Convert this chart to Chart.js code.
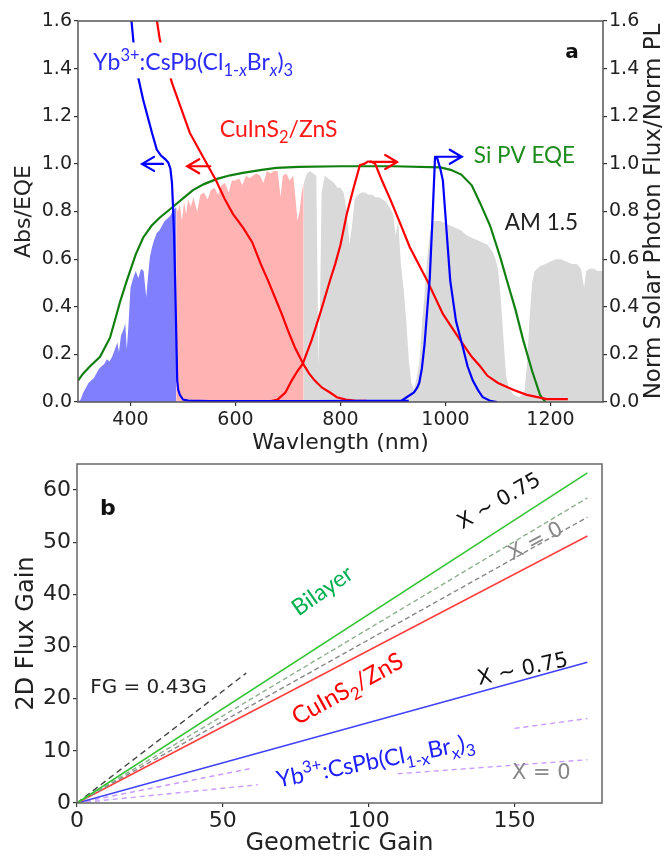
<!DOCTYPE html>
<html lang="en">
<head>
<meta charset="UTF-8">
<title>Spectra and 2D flux gain</title>
<script src="https://cdn.jsdelivr.net/npm/chart.js"></script>
<style>
  body { margin: 0; background: #fff; }
  #wrap { position: relative; width: 665px; height: 856px; overflow: hidden; }
  canvas { position: absolute; left: 0; }
  #chartA { top: 0; }
  #chartB { top: 460px; }
</style>
</head>
<body>
<div id="wrap">
  <canvas id="chartA" width="665" height="460"></canvas>
  <canvas id="chartB" width="665" height="396"></canvas>
</div>
<script>
// ---------- panel a data ----------
// AM1.5 normalised photon flux
const amWl = [
  300, 305, 310, 315, 320, 325, 330, 335, 340, 345,
  350, 355, 360, 365, 370, 375, 378, 382, 386, 390,
  393, 396, 400, 405, 410, 415, 420, 425, 430, 433,
  437, 441, 445, 450, 455, 460, 465, 470, 475, 480,
  484, 487, 490, 494, 498, 502, 506, 510, 515, 520,
  527, 533, 540, 547, 553, 560, 567, 573, 580, 587,
  593, 600, 607, 613, 620, 627, 633, 640, 647, 653,
  660, 667, 673, 680, 686, 690, 697, 703, 710, 715,
  718, 722, 726, 730, 736, 742, 748, 754, 758, 761,
  764, 770, 776, 782, 788, 794, 800, 806, 812, 817,
  822, 827, 833, 840, 847, 853, 860, 867, 873, 880,
  887, 893, 900, 905, 910, 915, 920, 925, 930, 935,
  940, 945, 950, 955, 960, 965, 970, 975, 980, 990,
  1000, 1010, 1020, 1030, 1040, 1050, 1060, 1070, 1080, 1090,
  1095, 1100, 1105, 1110, 1115, 1120, 1130, 1140, 1150, 1155,
  1160, 1165, 1170, 1180, 1190, 1200, 1210, 1220, 1230, 1240,
  1250, 1258, 1264, 1268, 1275, 1282, 1290, 1300
];
const amFlux = [
  0.00, 0.01, 0.04, 0.06, 0.08, 0.09, 0.10, 0.12, 0.14, 0.15,
  0.16, 0.18, 0.17, 0.19, 0.22, 0.25, 0.21, 0.28, 0.30, 0.33,
  0.22, 0.32, 0.48, 0.52, 0.55, 0.52, 0.56, 0.55, 0.44, 0.52,
  0.61, 0.65, 0.68, 0.71, 0.72, 0.74, 0.76, 0.77, 0.78, 0.80,
  0.81, 0.82, 0.80, 0.83, 0.76, 0.84, 0.79, 0.85, 0.82, 0.86,
  0.80, 0.87, 0.88, 0.85, 0.89, 0.90, 0.87, 0.91, 0.92, 0.88,
  0.93, 0.93, 0.94, 0.91, 0.95, 0.94, 0.95, 0.96, 0.95, 0.92,
  0.97, 0.96, 0.97, 0.97, 0.86, 0.95, 0.96, 0.93, 0.95, 0.84,
  0.76, 0.80, 0.88, 0.92, 0.96, 0.97, 0.96, 0.95, 0.15, 0.40,
  0.88, 0.95, 0.94, 0.93, 0.92, 0.90, 0.90, 0.88, 0.80, 0.66,
  0.74, 0.85, 0.87, 0.88, 0.88, 0.87, 0.87, 0.86, 0.86, 0.85,
  0.84, 0.82, 0.79, 0.70, 0.76, 0.58, 0.48, 0.35, 0.18, 0.08,
  0.05, 0.10, 0.16, 0.32, 0.45, 0.60, 0.70, 0.75, 0.76, 0.76,
  0.75, 0.74, 0.73, 0.72, 0.70, 0.69, 0.68, 0.67, 0.66, 0.63,
  0.60, 0.56, 0.44, 0.28, 0.12, 0.06, 0.03, 0.02, 0.04, 0.15,
  0.35, 0.50, 0.55, 0.57, 0.58, 0.59, 0.60, 0.60, 0.59, 0.58,
  0.58, 0.56, 0.48, 0.55, 0.56, 0.56, 0.55, 0.55
];
const perovCut = 487;   // perovskite absorbs below this
const cisCut = 730;     // CuInS2 absorbs below this

// Si PV EQE
const eqeWl = [300, 310, 323, 342, 361, 370, 380, 393, 410, 424, 440, 456, 481, 500, 519, 540, 565, 590, 614, 650, 678, 720, 800, 900, 990, 1010, 1030, 1050, 1066, 1085, 1104, 1117, 1133, 1148, 1165, 1180, 1190];
const eqe   = [0.09, 0.12, 0.15, 0.19, 0.27, 0.34, 0.42, 0.51, 0.62, 0.69, 0.74, 0.775, 0.82, 0.855, 0.89, 0.915, 0.937, 0.952, 0.962, 0.975, 0.983, 0.987, 0.99, 0.99, 0.985, 0.975, 0.955, 0.91, 0.835, 0.74, 0.61, 0.51, 0.39, 0.26, 0.13, 0.03, 0.0];

// Yb3+:CsPb(Cl1-xBrx)3 absorption and PL
const perovAbsWl = [401, 410, 424, 441, 450, 458, 466, 472, 476, 479, 481, 483, 485, 487, 489, 491, 494, 497, 500, 510, 550, 650, 750, 850, 930];
const perovAbs   = [1.62, 1.41, 1.27, 1.13, 1.06, 1.035, 1.02, 1.005, 0.98, 0.92, 0.82, 0.70, 0.51, 0.30, 0.09, 0.05, 0.03, 0.02, 0.01, 0.006, 0.004, 0.004, 0.004, 0.005, 0.005];
const perovPlWl = [900, 913, 926, 940, 946, 950, 955, 960, 965, 970, 975, 980, 984, 990, 995, 1002, 1009, 1020, 1033, 1042, 1052, 1062, 1071, 1085, 1098];
const perovPl   = [0.0, 0.0, 0.02, 0.04, 0.06, 0.08, 0.14, 0.24, 0.38, 0.52, 0.76, 1.025, 1.025, 0.98, 0.93, 0.72, 0.51, 0.34, 0.23, 0.15, 0.09, 0.05, 0.02, 0.005, 0.0];

// CuInS2/ZnS absorption and PL
const cisAbsWl = [449, 456, 479, 513, 548, 563, 580, 595, 615, 632, 648, 662, 675, 688, 700, 713, 729, 740, 751, 765, 780, 793, 810, 830, 850];
const cisAbs   = [1.62, 1.52, 1.34, 1.13, 0.99, 0.93, 0.85, 0.79, 0.73, 0.67, 0.58, 0.51, 0.44, 0.37, 0.30, 0.23, 0.16, 0.12, 0.09, 0.06, 0.04, 0.02, 0.01, 0.005, 0.005];
const cisPlWl = [660, 680, 695, 707, 718, 728, 745, 761, 780, 790, 800, 812, 825, 837, 845, 852, 858, 866, 879, 895, 910, 932, 965, 995, 1010, 1028, 1050, 1066, 1080, 1100, 1130, 1155, 1193, 1233];
const cisPl   = [0.0, 0.01, 0.04, 0.09, 0.13, 0.16, 0.26, 0.37, 0.51, 0.58, 0.66, 0.79, 0.90, 0.995, 1.0, 1.01, 1.01, 1.0, 0.93, 0.85, 0.77, 0.65, 0.51, 0.37, 0.32, 0.26, 0.19, 0.15, 0.11, 0.08, 0.05, 0.03, 0.012, 0.012];

const wlTicks = [400, 600, 800, 1000, 1200];
const absTicks = [0.0, 0.2, 0.4, 0.6, 0.8, 1.0, 1.2, 1.4, 1.6];

// ---------- panel b data ----------
const gainEnds = [0, 175];
const bilayerX075 = [0, 63.3];
const bilayerX0 = [0, 58.5];
const cisX0 = [0, 54.8];
const cisX075 = [0, 51.2];
const perovX075 = [0, 27.0];
const refGain = [0, 58];
const refFlux = [0, 24.9];      // FG = 0.43G
const perovX0aGain = [0, 60.5, 100, 150, 175];
const perovX0a     = [0, 6.7, null, 14.3, 16.2];
const perovX0bGain = [0, 62, 90, 110, 175];
const perovX0b     = [0, 3.5, null, 5.6, 8.3];

const gainTicks = [0, 50, 100, 150];
const fluxTicks = [0, 10, 20, 30, 40, 50, 60];

// ---------- helpers ----------
const LABEL_FONT = "Lato, 'Open Sans', sans-serif";
const AXIS_FONT = "'DejaVu Sans', sans-serif";
Chart.defaults.font.family = AXIS_FONT;
Chart.defaults.color = '#222';

const toPts = (xs, ys) => xs.map((x, i) => ({ x, y: ys[i] }));

function lineDs(xs, ys, color, width, dash) {
  return { data: toPts(xs, ys), borderColor: color, borderWidth: width, borderDash: dash || [],
           pointRadius: 0, fill: false, tension: 0, spanGaps: false, order: 1 };
}
function fillDs(pts, color) {
  return { data: pts, borderWidth: 0, borderColor: color, backgroundColor: color,
           pointRadius: 0, fill: 'origin', tension: 0, order: 5 };
}
function fixedTicks(values) {
  return scale => { scale.ticks = values.map(v => ({ value: v })); };
}
function fitTo(prop, size) {
  return scale => {
    scale[prop] = size;
    scale.paddingTop = scale.paddingBottom = scale.paddingLeft = scale.paddingRight = 0;
  };
}

function drawRich(ctx, item, px, py) {
  const size = item.size;
  const fam = item.family || LABEL_FONT;
  const runs = item.parts.map(([t, pos, it]) => {
    const s = pos ? size * 0.72 : size;
    const font = (it ? 'italic ' : '') + (item.bold ? 'bold ' : '') + s + 'px ' + fam;
    ctx.font = font;
    const dy = pos === 'sup' ? -size * 0.4 : pos === 'sub' ? size * 0.25 : 0;
    return { t, font, w: ctx.measureText(t).width, dy };
  });
  const total = runs.reduce((a, r) => a + r.w, 0);
  ctx.save();
  ctx.translate(px, py);
  if (item.rot) ctx.rotate(item.rot * Math.PI / 180);
  let x = item.align === 'center' ? -total / 2 : 0;
  const base = item.align === 'center' ? size * 0.36 : 0;
  if (item.bg) {
    ctx.fillStyle = '#fff';
    ctx.fillRect(x - 4, base - size * 1.2, total + 8, size * 1.56);
  }
  ctx.fillStyle = item.color;
  ctx.textAlign = 'left';
  ctx.textBaseline = 'alphabetic';
  runs.forEach(r => { ctx.font = r.font; ctx.fillText(r.t, x, base + r.dy); x += r.w; });
  ctx.restore();
}

function drawArrow(ctx, x0, y0, x1, y1, color) {
  const dir = Math.sign(x1 - x0);
  ctx.save();
  ctx.strokeStyle = color;
  ctx.lineWidth = 2.2;
  ctx.lineCap = 'round';
  ctx.beginPath();
  ctx.moveTo(x0, y0); ctx.lineTo(x1, y1);
  ctx.moveTo(x1 - dir * 12, y1 - 7); ctx.lineTo(x1, y1); ctx.lineTo(x1 - dir * 12, y1 + 7);
  ctx.stroke();
  ctx.restore();
}

const framePlugin = color => ({
  id: 'frame',
  afterDraw(chart) {
    const { ctx, chartArea: a } = chart;
    ctx.save();
    ctx.strokeStyle = color;
    ctx.lineWidth = 1.5;
    ctx.strokeRect(a.left, a.top, a.right - a.left, a.bottom - a.top);
    ctx.restore();
  }
});

function annotationPlugin(labels, arrows, extra) {
  return {
    id: 'notes',
    afterDatasetsDraw(chart) {
      const { ctx, scales } = chart;
      (arrows || []).forEach(a => {
        drawArrow(ctx, scales.x.getPixelForValue(a.from[0]), scales.y.getPixelForValue(a.from[1]),
                  scales.x.getPixelForValue(a.to[0]), scales.y.getPixelForValue(a.to[1]), a.color);
      });
      labels.forEach(l => drawRich(ctx, l, scales.x.getPixelForValue(l.at[0]), scales.y.getPixelForValue(l.at[1])));
      if (extra) extra(chart);
    }
  };
}

// ---------- panel a ----------
const amPts = toPts(amWl, amFlux);
const perovSpan = amPts.filter(p => p.x <= perovCut);
const cisSpan = amPts.filter(p => p.x >= perovCut && p.x <= cisCut);
const restSpan = amPts.filter(p => p.x >= cisCut);

const perovFormulaA = [['Yb'], ['3+', 'sup'], [':CsPb(Cl'], ['1-', 'sub'], ['x', 'sub', 1], ['Br'], ['x', 'sub', 1], [')'], ['3', 'sub']];
const cisFormula = [['CuInS'], ['2', 'sub'], ['/ZnS']];

const labelsA = [
  { at: [329, 1.394], parts: perovFormulaA, color: '#2b2bff', size: 23, bg: true },
  { at: [570, 1.113], parts: cisFormula, color: '#ff1a1a', size: 23 },
  { at: [1054, 1.004], parts: [['Si PV EQE']], color: '#1e8c1e', size: 22.5 },
  { at: [1113, 0.722], parts: [['AM 1.5']], color: '#222', size: 22.5 },
  { at: [1228, 1.445], parts: [['a']], color: '#111', size: 20, bold: true, family: AXIS_FONT }
];
const arrowsA = [
  { from: [462, 1.0], to: [422, 1.0], color: '#0000ff' },
  { from: [552, 0.99], to: [508, 0.99], color: '#ff0000' },
  { from: [856, 1.008], to: [908, 1.008], color: '#ff0000' },
  { from: [980, 1.03], to: [1031, 1.03], color: '#0000ff' }
];

function rightTitle(chart) {
  const { ctx, chartArea: a } = chart;
  ctx.save();
  ctx.translate(654, (a.top + a.bottom) / 2);
  ctx.rotate(-Math.PI / 2);
  ctx.font = '23px ' + AXIS_FONT;
  ctx.fillStyle = '#222';
  ctx.textAlign = 'center';
  ctx.textBaseline = 'middle';
  ctx.fillText('Norm Solar Photon Flux/Norm PL', 0, 0);
  ctx.restore();
}

const tickGrid = { drawOnChartArea: false, tickLength: 4, color: '#333', lineWidth: 1.2 };

new Chart(document.getElementById('chartA'), {
  type: 'line',
  data: {
    datasets: [
      lineDs(perovAbsWl, perovAbs, '#0000ff', 2.2),
      lineDs(perovPlWl, perovPl, '#0000ff', 2.2),
      lineDs(cisAbsWl, cisAbs, '#ff0000', 2.2),
      lineDs(cisPlWl, cisPl, '#ff0000', 2.2),
      lineDs(eqeWl, eqe, '#118011', 2.2),
      fillDs(perovSpan, '#8080ff'),
      fillDs(cisSpan, '#ffb3b3'),
      fillDs(restSpan, '#d9d9d9')
    ]
  },
  options: {
    responsive: false,
    animation: false,
    devicePixelRatio: 1,
    layout: { padding: { top: 21, left: 0, right: 0, bottom: 0 } },
    plugins: { legend: { display: false }, tooltip: { enabled: false } },
    scales: {
      x: {
        type: 'linear', min: 300, max: 1300,
        afterBuildTicks: fixedTicks(wlTicks),
        afterFit: fitTo('height', 58),
        grid: tickGrid, border: { display: false },
        ticks: { font: { size: 19 }, padding: 3, maxRotation: 0, callback: v => v },
        title: { display: true, text: 'Wavlength (nm)', font: { size: 22 }, padding: { top: 0, bottom: 4 } }
      },
      y: {
        min: 0, max: 1.6,
        afterBuildTicks: fixedTicks(absTicks),
        afterFit: fitTo('width', 78),
        grid: tickGrid, border: { display: false },
        ticks: { font: { size: 19 }, padding: 2, callback: v => v.toFixed(1) },
        title: { display: true, text: 'Abs/EQE', font: { size: 22 }, padding: { top: 11, bottom: 0 } }
      },
      y2: {
        position: 'right', min: 0, max: 1.6,
        afterBuildTicks: fixedTicks(absTicks),
        afterFit: fitTo('width', 62),
        grid: tickGrid, border: { display: false },
        ticks: { font: { size: 19 }, padding: 2, callback: v => v.toFixed(1) }
      }
    }
  },
  plugins: [annotationPlugin(labelsA, arrowsA, rightTitle), framePlugin('#555')]
});

// ---------- panel b ----------
const perovFormulaB = [['Yb'], ['3+', 'sup'], [':CsPb(Cl'], ['1-x', 'sub'], ['Br'], ['x', 'sub'], [')'], ['3', 'sub']];
const labelsB = [
  { at: [7.9, 55.2], parts: [['b']], color: '#111', size: 22, bold: true, family: AXIS_FONT },
  { at: [4.5, 21.1], parts: [['FG = 0.43G']], color: '#222', size: 20, family: AXIS_FONT },
  { at: [84, 40.8], parts: [['Bilayer']], color: '#00b050', size: 23, align: 'center', rot: -35 },
  { at: [144.5, 58.1], parts: [['X ~ 0.75']], color: '#111', size: 21, align: 'center', rot: -30, family: AXIS_FONT },
  { at: [157, 50.4], parts: [['X = 0']], color: '#888', size: 21, align: 'center', rot: -28, family: AXIS_FONT },
  { at: [92.6, 22.0], parts: cisFormula, color: '#ff0000', size: 24, align: 'center', rot: -29 },
  { at: [152.7, 25.9], parts: [['X ~ 0.75']], color: '#111', size: 21, align: 'center', rot: -12, family: AXIS_FONT },
  { at: [102.3, 8.2], parts: perovFormulaB, color: '#2020ff', size: 23, align: 'center', rot: -11 },
  { at: [159.2, 6.0], parts: [['X = 0']], color: '#888', size: 21, align: 'center', family: AXIS_FONT }
];

new Chart(document.getElementById('chartB'), {
  type: 'line',
  data: {
    datasets: [
      lineDs(gainEnds, bilayerX075, '#33c433', 1.6),
      lineDs(gainEnds, bilayerX0, '#8fb08f', 1.4, [5, 3]),
      lineDs(gainEnds, cisX0, '#888888', 1.4, [5, 3]),
      lineDs(gainEnds, cisX075, '#ff4040', 1.6),
      lineDs(gainEnds, perovX075, '#4040ff', 1.6),
      lineDs(refGain, refFlux, '#444444', 1.4, [6, 4]),
      lineDs(perovX0aGain, perovX0a, '#c99cff', 1.4, [5, 4]),
      lineDs(perovX0bGain, perovX0b, '#c99cff', 1.4, [5, 4])
    ]
  },
  options: {
    responsive: false,
    animation: false,
    devicePixelRatio: 1,
    layout: { padding: { top: 4, left: 0, right: 63, bottom: 0 } },
    plugins: { legend: { display: false }, tooltip: { enabled: false } },
    scales: {
      x: {
        type: 'linear', min: 0, max: 180,
        afterBuildTicks: fixedTicks(gainTicks),
        afterFit: fitTo('height', 53),
        grid: tickGrid, border: { display: false },
        ticks: { font: { size: 22 }, padding: 1, maxRotation: 0, callback: v => v },
        title: { display: true, text: 'Geometric Gain', font: { size: 24, lineHeight: 1.0 }, padding: { top: 0, bottom: 0 } }
      },
      y: {
        min: 0, max: 65,
        afterBuildTicks: fixedTicks(fluxTicks),
        afterFit: fitTo('width', 77),
        grid: tickGrid, border: { display: false },
        ticks: { font: { size: 22 }, padding: 2, callback: v => v },
        title: { display: true, text: '2D Flux Gain', font: { size: 24 }, padding: { top: 12, bottom: 0 } }
      }
    }
  },
  plugins: [annotationPlugin(labelsB, []), framePlugin('#666')]
});
</script>
</body>
</html>
